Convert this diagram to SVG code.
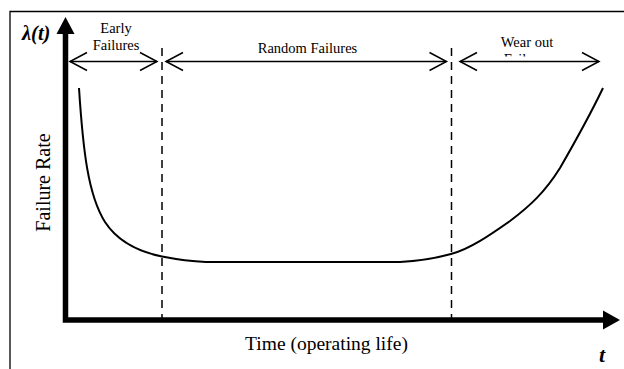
<svg xmlns="http://www.w3.org/2000/svg" width="624" height="369" viewBox="0 0 624 369">
<style>
.lbl{font-family:"Liberation Serif","Times New Roman",serif;fill:#000}
.sm{font-size:14.5px}
.dash{stroke:#000;stroke-width:1.5;stroke-dasharray:8 6;fill:none}
.dim{stroke:#000;stroke-width:1.5;fill:none;marker-start:url(#v);marker-end:url(#v)}
.bi{font-weight:bold;font-style:italic}
</style>
<defs>
<marker id="v" viewBox="-19 -11 21 22" markerWidth="21" markerHeight="22" refX="0" refY="0" markerUnits="userSpaceOnUse" orient="auto-start-reverse">
<path d="M-17,-9 L0,0 L-17,9" fill="none" stroke="#000" stroke-width="1.5"/>
</marker>
<clipPath id="clipF"><rect x="480" y="40" width="100" height="16.5"/></clipPath>
</defs>
<rect width="624" height="369" fill="#fff"/>
<g id="frame" fill="none" stroke="#000" stroke-width="1.3">
<path d="M10,369 V11.5 H624"/>
</g>
<g id="axes">
<path d="M65.5,30 V320 H605" fill="none" stroke="#000" stroke-width="5.5" stroke-linejoin="miter"/>
<path d="M65.5,17 L74.5,34 L56.5,34 Z" fill="#000"/>
<path d="M620,320 L603,310.5 L603,329.5 Z" fill="#000"/>
<text class="lbl bi" x="22" y="40" font-size="20.5">λ(t)</text>
<text class="lbl bi" x="599" y="362" font-size="22">t</text>
<text class="lbl" x="326.5" y="350" font-size="19.5" text-anchor="middle">Time (operating life)</text>
<text class="lbl" transform="translate(49.5,182.5) rotate(-90)" font-size="20" text-anchor="middle">Failure Rate</text>
</g>
<g id="connectors">
<line class="dash" x1="162" y1="48" x2="162" y2="318"/>
<line class="dash" x1="451.5" y1="48" x2="451.5" y2="318"/>
<line class="dim" x1="70" y1="61.5" x2="157" y2="61.5"/>
<line class="dim" x1="166" y1="61.5" x2="446.5" y2="61.5"/>
<line class="dim" x1="460" y1="61.5" x2="599" y2="61.5"/>
</g>
<g id="early">
<text class="lbl sm" x="116" y="33" text-anchor="middle">Early</text>
<text class="lbl sm" x="116" y="50" text-anchor="middle">Failures</text>
</g>
<g id="random">
<text class="lbl sm" x="307.5" y="52.5" text-anchor="middle">Random Failures</text>
</g>
<g id="wearout">
<text class="lbl sm" x="527" y="47" text-anchor="middle">Wear out</text>
<text class="lbl sm" x="527" y="64" text-anchor="middle" clip-path="url(#clipF)">Failures</text>
</g>
<g id="curve">
<path d="M79,88 C83,150 88,195 105,222 C118,242 140,252 162,256.5 C180,260 195,261.5 206,262 L400,262 C420,261 440,257 451,254 C470,249 490,235 510,221 C530,206 545,192 560,168 C575,142 590,115 603,88" fill="none" stroke="#000" stroke-width="2"/>
</g>
</svg>
